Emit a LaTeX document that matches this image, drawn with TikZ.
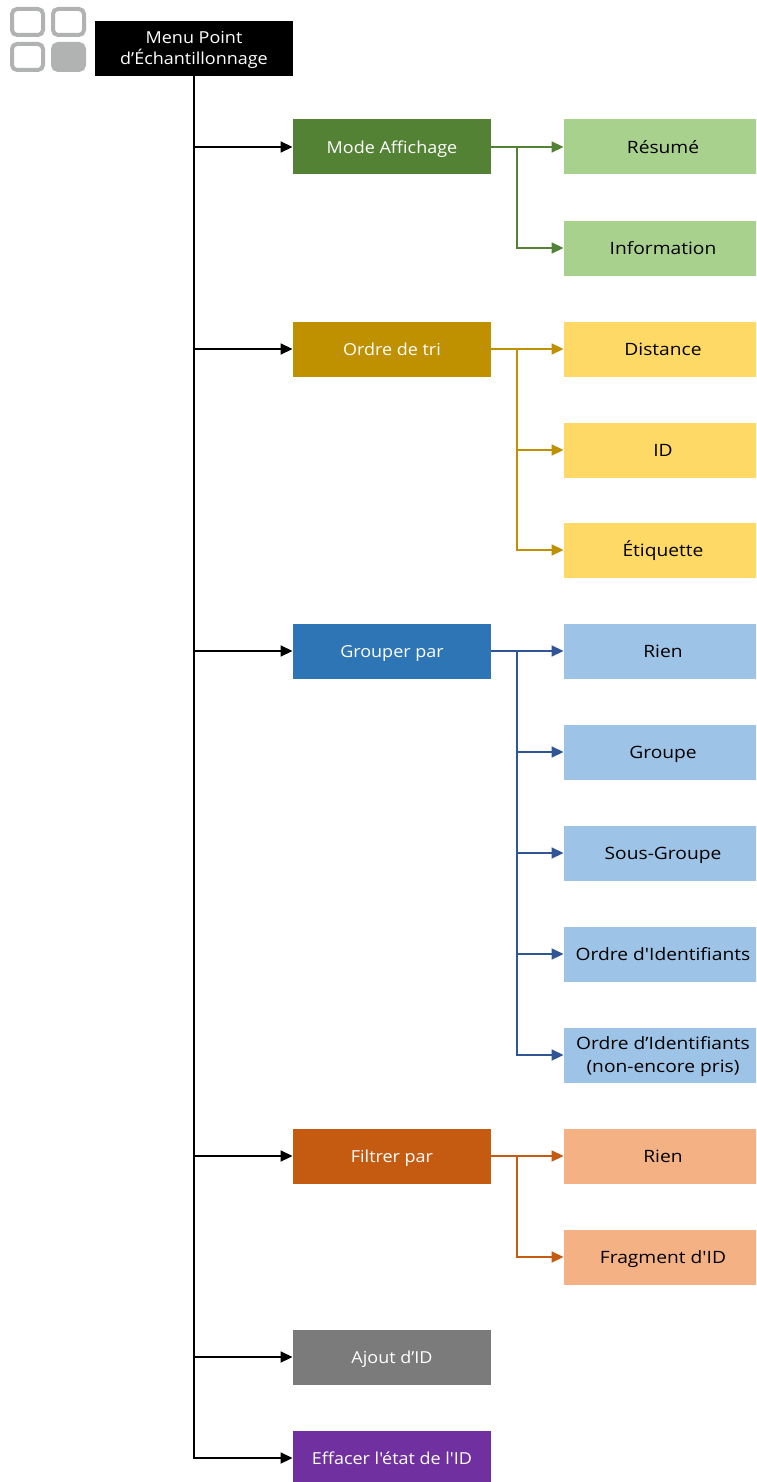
\documentclass[tikz,border=0pt]{standalone}
\usepackage{fontspec}
\newfontfamily\parentfont[FakeStretch=1.09]{Open Sans}
\newfontfamily\childfont[FakeStretch=1.13]{Open Sans}
\usetikzlibrary{arrows.meta}
\definecolor{cgreen}{HTML}{548235}\definecolor{lgreen}{HTML}{A9D18E}
\definecolor{cgold}{HTML}{BF9000}\definecolor{lgold}{HTML}{FFD966}
\definecolor{cblue}{HTML}{2E75B6}\definecolor{lineblue}{HTML}{2F5597}\definecolor{lblue}{HTML}{9DC3E6}
\definecolor{corange}{HTML}{C55A11}\definecolor{lorange}{HTML}{F4B183}
\definecolor{cgray}{HTML}{7B7B7B}\definecolor{cpurple}{HTML}{7030A0}
\definecolor{icongray}{HTML}{B0B3B2}
\newcommand{\topstrut}{\rule{0pt}{18pt}}
\newcommand{\botstrut}{\rule[-5pt]{0pt}{5pt}}
\newcommand{\dn}[1]{\raisebox{-2pt}[\height][\depth]{#1}}
\tikzset{
 x=1pt,y=-1pt,
 boxbase/.style={minimum width=198.5pt,minimum height=55pt,inner sep=0pt,align=center,
   execute at begin node=\topstrut,execute at end node=\botstrut},
 parentbox/.style={boxbase,fill=#1,text=white,font=\parentfont\fontsize{16.5}{20.5}\selectfont},
 childbox/.style={boxbase,fill=#1,text=black,font=\childfont\fontsize{17}{22.5}\selectfont},
 link/.style={draw=#1,line width=1.7pt,-{Triangle[length=12pt,width=11pt]}},
 tile/.style={draw=icongray,line width=4pt,rounded corners=5pt}
}
\begin{document}
\begin{tikzpicture}
\useasboundingbox (0,0) rectangle (756,1482);
\clip (0,0) rectangle (756,1482);
% icon
\draw[tile] (12,9) rectangle (43,35);
\draw[tile] (53,9) rectangle (84,35);
\draw[tile] (12,44) rectangle (43,70);
\draw[tile,fill=icongray] (53,44) rectangle (84,70);
% nodes
\node[parentbox=black] (menu) at (194,48.5) {\dn{Menu Point}\\\dn{d’Échantillonnage}};
\node[parentbox=cgreen] (mode) at (392,147) {Mode Affichage};
\node[parentbox=cgold] (ordre) at (392,349) {Ordre de tri};
\node[parentbox=cblue] (grouper) at (392,651) {Grouper par};
\node[parentbox=corange] (filtrer) at (392,1156) {Filtrer par};
\node[parentbox=cgray] (ajout) at (392,1357) {Ajout d’ID};
\node[parentbox=cpurple] (effacer) at (392,1458) {Effacer l'état de l'ID};
\node[childbox=lgreen] (resume) at (663,147) {Résumé};
\node[childbox=lgreen] (info) at (663,248) {Information};
\node[childbox=lgold] (dist) at (663,349) {Distance};
\node[childbox=lgold] (id) at (663,450) {ID};
\node[childbox=lgold] (etiq) at (663,550) {Étiquette};
\node[childbox=lblue] (rien) at (663,651) {Rien};
\node[childbox=lblue] (groupe) at (663,752) {Groupe};
\node[childbox=lblue] (sous) at (663,853) {Sous-Groupe};
\node[childbox=lblue] (oid) at (663,954) {Ordre d'Identifiants};
\node[childbox=lblue] (oidn) at (663,1055) {\dn{Ordre d’Identifiants}\\\dn{(non-encore pris)}};
\node[childbox=lorange] (rienf) at (663,1156) {Rien};
\node[childbox=lorange] (frag) at (663,1257) {Fragment d'ID};
% trunk
\foreach \t in {mode,ordre,grouper,filtrer,ajout,effacer}
  \draw[link=black] (menu.south) |- (\t.west);
% branches
\draw[link=cgreen] (mode.east) -- (resume.west);
\draw[link=cgreen] (mode.east) -- ++(25.5,0) |- (info.west);
\draw[link=cgold] (ordre.east) -- (dist.west);
\foreach \t in {id,etiq}
  \draw[link=cgold] (ordre.east) -- ++(25.5,0) |- (\t.west);
\draw[link=lineblue] (grouper.east) -- (rien.west);
\foreach \t in {groupe,sous,oid,oidn}
  \draw[link=lineblue] (grouper.east) -- ++(25.5,0) |- (\t.west);
\draw[link=corange] (filtrer.east) -- (rienf.west);
\draw[link=corange] (filtrer.east) -- ++(25.5,0) |- (frag.west);
\end{tikzpicture}
\end{document}
